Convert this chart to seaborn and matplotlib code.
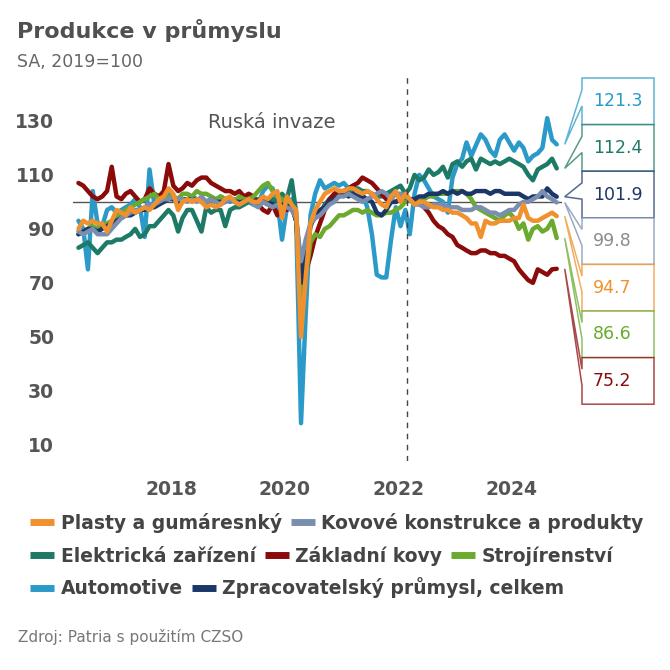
import numpy as np
import pandas as pd
import matplotlib
matplotlib.use("Agg")
import matplotlib.pyplot as plt
import matplotlib.dates as mdates
from matplotlib.lines import Line2D
from matplotlib.patches import Polygon
import seaborn as sns

##----------- Data (monthly, SA, 2019=100) --------------##
start_month = "2016-05-01"

plasty = [90, 93, 92, 93, 92, 92, 89, 93,
          97, 96, 95, 98, 96, 97, 98, 97, 99, 101, 102, 105,
          103, 97, 100, 101, 100, 101, 100, 98, 99, 98, 99, 101,
          102, 100, 99, 100, 101, 100, 100, 102, 101, 103, 104, 94,
          102, 99, 97, 50, 72, 92, 97, 100, 103, 104, 105, 104,
          104, 105, 105, 104, 103, 104, 103, 101, 99, 98, 102, 104,
          100, 103, 101, 99, 100, 100, 99, 98, 98, 97, 97, 96,
          96, 95, 94, 92, 92, 87, 93, 92, 92, 93, 93, 93,
          94, 94, 99, 94, 93, 93, 94, 95, 96, 94.7]
kovove = [89, 88, 89, 90, 88, 88, 88, 90,
          92, 94, 95, 96, 97, 97, 98, 99, 99, 100, 101, 101,
          102, 101, 101, 100, 101, 100, 102, 100, 101, 100, 99, 100,
          101, 100, 99, 100, 101, 99, 98, 100, 99, 98, 99, 98,
          98, 97, 94, 78, 86, 92, 94, 95, 97, 99, 100, 102,
          102, 103, 102, 101, 100, 101, 102, 103, 104, 103, 101, 103,
          103, 102, 101, 99, 99, 98, 98, 99, 99, 99, 98, 98,
          98, 97, 97, 97, 98, 98, 97, 96, 96, 95, 96, 97,
          97, 99, 100, 100, 101, 102, 104, 102, 101, 99.8]
elektricka = [83, 84, 85, 83, 81, 83, 85, 85,
              86, 86, 87, 88, 90, 87, 88, 91, 91, 93, 95, 97,
              95, 89, 94, 97, 97, 93, 89, 98, 96, 97, 97, 91,
              97, 98, 98, 99, 100, 99, 101, 100, 99, 101, 100, 103,
              101, 108, 96, 62, 80, 92, 94, 96, 99, 101, 102, 102,
              103, 104, 104, 105, 104, 104, 103, 102, 102, 103, 104, 105,
              106, 103, 105, 110, 108, 109, 112, 110, 111, 113, 109, 114,
              115, 113, 115, 116, 112, 116, 115, 114, 115, 114, 115, 116,
              115, 114, 113, 110, 108, 112, 113, 114, 116, 112.4]
zakladni = [107, 106, 104, 102, 101, 102, 104, 113,
            102, 101, 103, 104, 102, 100, 101, 105, 103, 102, 104, 114,
            106, 104, 105, 107, 106, 108, 109, 109, 107, 106, 105, 104,
            104, 103, 104, 102, 103, 102, 99, 97, 96, 99, 95, 98,
            97, 98, 93, 76, 74, 80, 87, 92, 97, 101, 103, 104,
            104, 105, 106, 107, 109, 108, 107, 105, 103, 101, 100, 100,
            101, 100, 101, 100, 100, 98, 96, 93, 91, 90, 88, 87,
            84, 83, 82, 81, 81, 82, 82, 81, 81, 80, 80, 79,
            78, 75, 73, 71, 70, 75, 74, 73, 75, 75.2]
strojirenstvi = [88, 89, 90, 91, 90, 91, 92, 93,
                 94, 96, 97, 98, 99, 100, 101, 102, 103, 101, 100, 102,
                 102, 101, 103, 103, 102, 104, 103, 103, 102, 101, 102, 101,
                 101, 100, 102, 101, 101, 102, 104, 106, 107, 104, 102, 101,
                 100, 99, 93, 66, 72, 85, 88, 87, 90, 91, 93, 95,
                 95, 96, 97, 97, 96, 97, 96, 95, 95, 96, 96, 97,
                 98, 100, 101, 99, 100, 101, 102, 102, 103, 103, 103, 104,
                 104, 104, 103, 101, 98, 97, 96, 95, 94, 93, 95, 96,
                 94, 90, 92, 86, 90, 91, 89, 90, 93, 86.6]
automotive = [93, 90, 75, 104, 92, 91, 97, 98,
              96, 97, 98, 99, 101, 98, 87, 112, 99, 100, 102, 103,
              101, 99, 100, 101, 102, 101, 100, 99, 101, 100, 102, 101,
              100, 101, 99, 100, 102, 100, 99, 104, 106, 105, 100, 86,
              98, 101, 93, 18, 58, 95, 103, 108, 105, 106, 107, 106,
              107, 105, 106, 104, 103, 98, 88, 73, 72, 72, 86, 98,
              91, 97, 88, 103, 110, 108, 105, 102, 101, 100, 96, 109,
              114, 116, 122, 117, 121, 125, 123, 119, 117, 123, 125, 122,
              119, 122, 120, 115, 117, 118, 120, 131, 123, 121.3]
celkem = [88, 89, 90, 90, 89, 90, 91, 92,
          93, 94, 95, 95, 96, 97, 97, 98, 98, 99, 100, 101,
          101, 100, 101, 101, 101, 101, 101, 100, 101, 100, 100, 100,
          101, 100, 100, 100, 101, 100, 100, 101, 100, 99, 99, 99,
          98, 99, 93, 70, 80, 91, 95, 97, 98, 100, 101, 102,
          103, 102, 103, 102, 102, 101, 100, 96, 95, 97, 100, 100,
          101, 102, 101, 101, 102, 102, 103, 103, 103, 104, 103, 104,
          103, 104, 103, 103, 104, 104, 104, 103, 104, 104, 103, 103,
          103, 103, 102, 101, 102, 102, 102, 105, 103, 101.9]

series_names = ["Plasty a gumáresnký", "Kovové konstrukce a produkty",
                "Elektrická zařízení", "Základní kovy", "Strojírenství",
                "Automotive", "Zpracovatelský průmysl, celkem"]
series_values = [plasty, kovove, elektricka, zakladni, strojirenstvi, automotive, celkem]
colors = ["#F0912D", "#7A8FB0", "#1D7A66", "#8B0A0A", "#6AAA2E", "#2C9AC9", "#1B3768"]
label_colors = ["#F0912D", "#8C8C8C", "#1D7A66", "#8B0A0A", "#6AAA2E", "#2C9AC9", "#1B3768"]
legend_rows = [[0, 1], [2, 3, 4], [5, 6]]
draw_order = [5, 2, 3, 4, 6, 1, 0]
invasion = pd.Timestamp("2022-02-24")

##----------- Build frame --------------##
dates = pd.date_range(start_month, periods=len(plasty), freq="MS") + pd.Timedelta(days=14)
frames = []
for name, vals in zip(series_names, series_values):
    frames.append(pd.DataFrame({"date": dates, "value": vals, "series": name}))
df = pd.concat(frames, ignore_index=True)
palette = dict(zip(series_names, colors))

##----------- Plot --------------##
sns.set_style("white")
plt.rcParams["font.family"] = ["DejaVu Sans"]

W, H = 670, 670
fig = plt.figure(figsize=(W / 100, H / 100), dpi=100)
ax = fig.add_axes([73 / W, 1 - 461 / H, (562 - 73) / W, (461 - 75) / H])

ax.axhline(100, color="#555555", lw=1, zorder=1)
sns.lineplot(data=df, x="date", y="value", hue="series",
             hue_order=[series_names[i] for i in draw_order],
             palette=palette, linewidth=3.2, legend=False, ax=ax, zorder=2)
ax.axvline(invasion, color="#444444", lw=1, ls=(0, (4, 4)), zorder=3)
ax.annotate("Ruská invaze", xy=(invasion, 129.5), xytext=(-71, 0),
            textcoords="offset pixels", ha="right", va="center",
            fontsize=14, color="#555555")

ax.set_xlim(pd.Timestamp("2016-04-10"), pd.Timestamp("2024-11-18"))
ax.set_ylim(4, 147)
ax.set_yticks(range(10, 131, 20))
ax.set_yticks(range(20, 141, 20), minor=True)
ax.xaxis.set_major_locator(mdates.YearLocator(2))
ax.xaxis.set_major_formatter(mdates.DateFormatter("%Y"))
ax.set_xlabel("")
ax.set_ylabel("")
for s in ax.spines.values():
    s.set_visible(False)
ax.tick_params(axis="y", which="both", direction="out", length=6.5, width=1,
               color="#C8C8C8", pad=7, labelsize=13.5, labelcolor="#555555")
ax.tick_params(axis="x", which="major", direction="out", length=5, width=1,
               color="#888888", pad=9, labelsize=13.5, labelcolor="#555555")
for lab in ax.get_xticklabels() + ax.get_yticklabels():
    lab.set_fontweight("bold")

##----------- Callout boxes --------------##
order = sorted(range(len(series_names)), key=lambda i: -series_values[i][-1])
box_l, box_r, box_t, box_h = 582, 654, 78, 46.6
for k, i in enumerate(order):
    last = series_values[i][-1]
    px, py = ax.transData.transform((mdates.date2num(dates[-1]), last))
    tip_x, tip_y = px + 8, H - py
    t = box_t + k * box_h
    b = t + box_h
    a1, a2 = t + 0.25 * box_h, t + 0.6 * box_h
    pts = [(box_l, t), (box_r, t), (box_r, b), (box_l, b), (box_l, a2), (tip_x, tip_y), (box_l, a1)]
    poly = Polygon([(x / W, 1 - y / H) for x, y in pts], closed=True,
                   transform=fig.transFigure, facecolor="white",
                   edgecolor=colors[i], alpha=0.75, lw=1.1)
    fig.patches.append(poly)
    fig.text(593 / W, 1 - (t + box_h / 2) / H, f"{last:.1f}", color=label_colors[i],
             fontsize=12.5, va="center", ha="left")

##----------- Titles and legend --------------##
fig.text(17 / W, 1 - 31 / H, "Produkce v průmyslu", fontsize=16, fontweight="bold",
         color="#505050", va="center")
fig.text(17 / W, 1 - 62 / H, "SA, 2019=100", fontsize=12.5, color="#666666", va="center")

row_y = [523, 556, 588]
for ry, row in zip(row_y, legend_rows):
    handles = [Line2D([0], [0], color=colors[i], lw=5, solid_capstyle="butt") for i in row]
    labels = [series_names[i] for i in row]
    fig.legend(handles, labels, loc="center left", bbox_to_anchor=(30 / W, 1 - ry / H),
               ncol=len(row), frameon=False, prop={"weight": "bold", "size": 13.5},
               labelcolor="#444444", handlelength=1.3, handletextpad=0.35,
               columnspacing=0.45, borderpad=0, borderaxespad=0)

fig.text(18 / W, 1 - 637 / H, "Zdroj: Patria s použitím CZSO", fontsize=11,
         color="#777777", va="center")

fig.savefig("out.png", dpi=100)
